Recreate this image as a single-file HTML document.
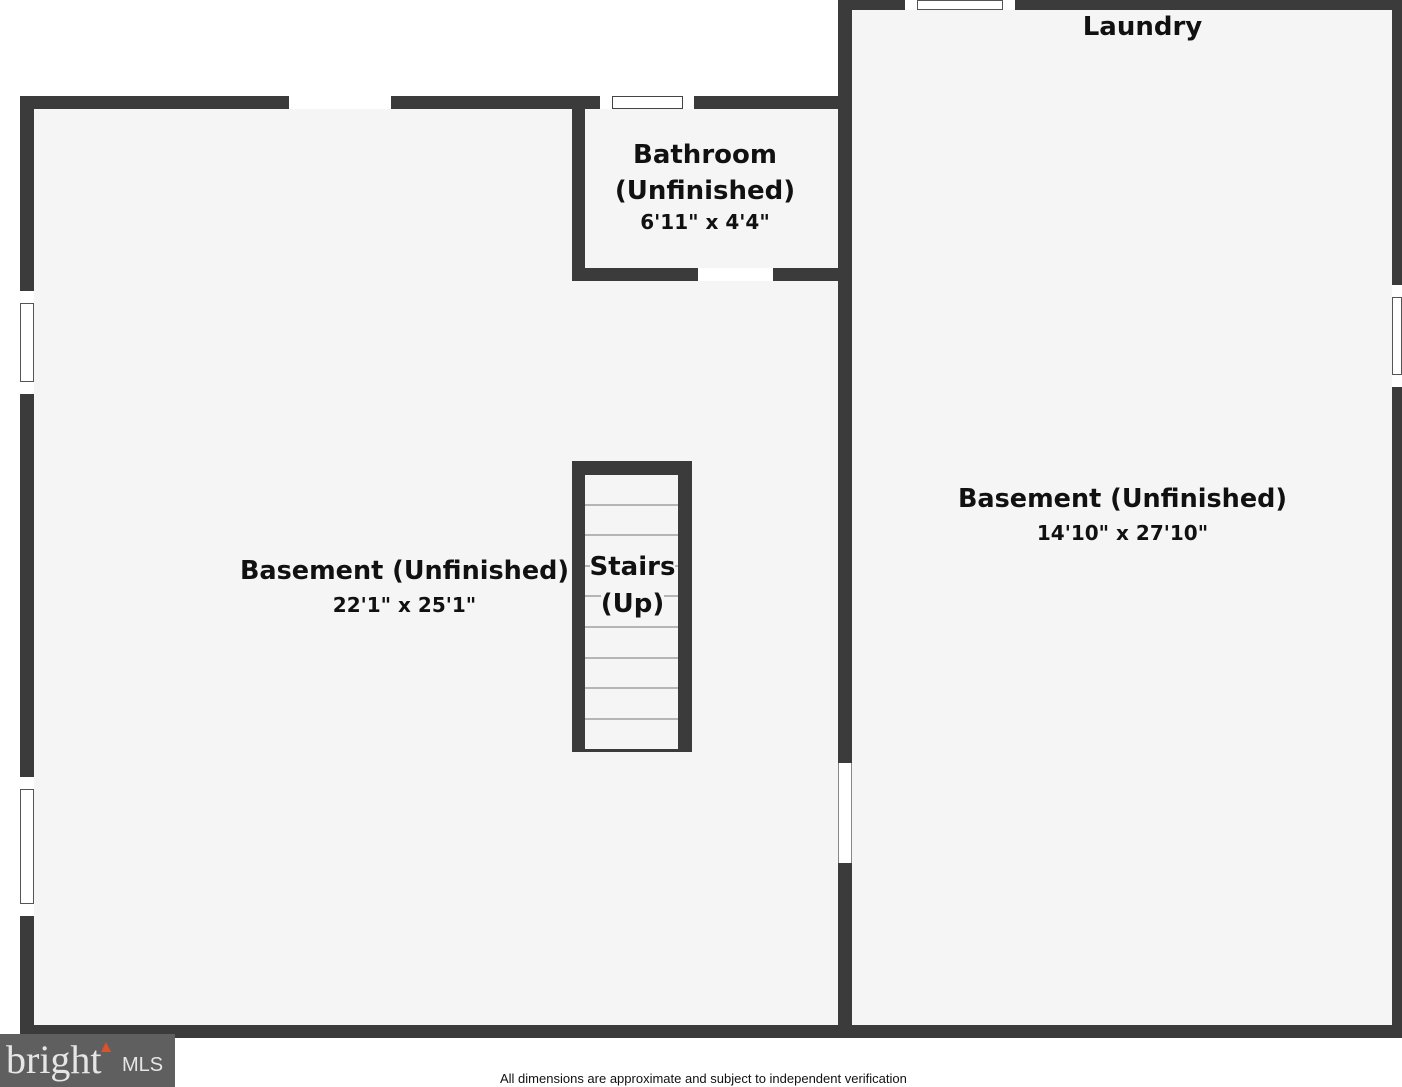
<!DOCTYPE html>
<html><head><style>
body{margin:0;width:1402px;height:1087px;background:#fff;position:relative;overflow:hidden;font-family:"DejaVu Sans","Liberation Sans",sans-serif;}
div{position:absolute;box-sizing:border-box;}
.w{background:#3b3b3b;}
.f{background:#f5f5f5;}
.win{background:#fff;border:1px solid #555;}
.op{background:#fff;}
.t{font-weight:bold;color:#111;text-align:center;white-space:nowrap;}
.tr{background:#b5b5b5;height:2px;left:585px;width:93px;}
</style></head><body>
<div class="w" style="left:20px;top:96px;width:832px;height:942px"></div>
<div class="f" style="left:34px;top:109px;width:804px;height:916px"></div>
<div class="w" style="left:838px;top:0;width:564px;height:1038px"></div>
<div class="f" style="left:852px;top:10px;width:540px;height:1015px"></div>
<div class="w" style="left:572px;top:96px;width:280px;height:185px"></div>
<div class="f" style="left:585px;top:109px;width:253px;height:159px"></div>
<div class="op" style="left:289px;top:96px;width:102px;height:13px"></div>
<div class="op" style="left:600px;top:96px;width:94px;height:13px"></div>
<div class="win" style="left:612px;top:96px;width:71px;height:13px;border-color:#444"></div>
<div class="op" style="left:698px;top:268px;width:75px;height:13px"></div>
<div class="op" style="left:905px;top:0;width:110px;height:10px"></div>
<div class="win" style="left:917px;top:0;width:86px;height:10px"></div>
<div class="op" style="left:20px;top:291px;width:14px;height:103px"></div>
<div class="win" style="left:20px;top:303px;width:14px;height:79px"></div>
<div class="op" style="left:20px;top:777px;width:14px;height:139px"></div>
<div class="win" style="left:20px;top:789px;width:14px;height:115px"></div>
<div class="op" style="left:1392px;top:285px;width:10px;height:102px"></div>
<div class="win" style="left:1392px;top:297px;width:10px;height:78px"></div>
<div class="op" style="left:838px;top:763px;width:14px;height:100px;border-left:1px solid #888;border-right:1px solid #888"></div>
<div class="w" style="left:572px;top:461px;width:120px;height:291px"></div>
<div class="f" style="left:585px;top:475px;width:93px;height:274px"></div>
<div class="tr" style="top:504px"></div><div class="tr" style="top:534px"></div>
<div class="tr" style="top:565px"></div><div class="tr" style="top:595px"></div>
<div class="tr" style="top:626px"></div><div class="tr" style="top:657px"></div>
<div class="tr" style="top:687px"></div><div class="tr" style="top:718px"></div>
<div class="t" style="left:585px;top:137px;width:240px;font-size:26px;line-height:36px">Bathroom<br>(Unfinished)</div>
<div class="t" style="left:585px;top:210px;width:240px;font-size:20px">6'11" x 4'4"</div>
<div class="t" style="left:1000px;top:12px;width:285px;font-size:26px">Laundry</div>
<div class="t" style="left:940px;top:484px;width:365px;font-size:25.5px">Basement (Unfinished)</div>
<div class="t" style="left:940px;top:521px;width:365px;font-size:20px">14'10" x 27'10"</div>
<div class="t" style="left:222px;top:556px;width:365px;font-size:25.5px">Basement (Unfinished)</div>
<div class="t" style="left:222px;top:593px;width:365px;font-size:20px">22'1" x 25'1"</div>
<div class="t" style="left:580px;top:549px;width:105px;font-size:26px;line-height:37px"><span style="background:#f5f5f5">Stairs</span><br><span style="background:#f5f5f5">(Up)</span></div>
<div style="left:0;top:1034px;width:175px;height:53px;background:#5f5f5f"></div>
<div style="left:6px;top:1036px;font-family:'Liberation Serif',serif;font-size:40px;color:#e6e6e6;">bright</div>
<div style="left:101px;top:1042px;width:0;height:0;border-left:5px solid transparent;border-right:5px solid transparent;border-bottom:10px solid #d9542b"></div>
<div style="left:122px;top:1054px;font-family:'Liberation Sans',sans-serif;font-size:20px;color:#e6e6e6;">MLS</div>
<div style="left:500px;top:1071px;font-family:'Liberation Sans',sans-serif;font-size:13px;color:#111;white-space:nowrap">All dimensions are approximate and subject to independent verification</div>
</body></html>
